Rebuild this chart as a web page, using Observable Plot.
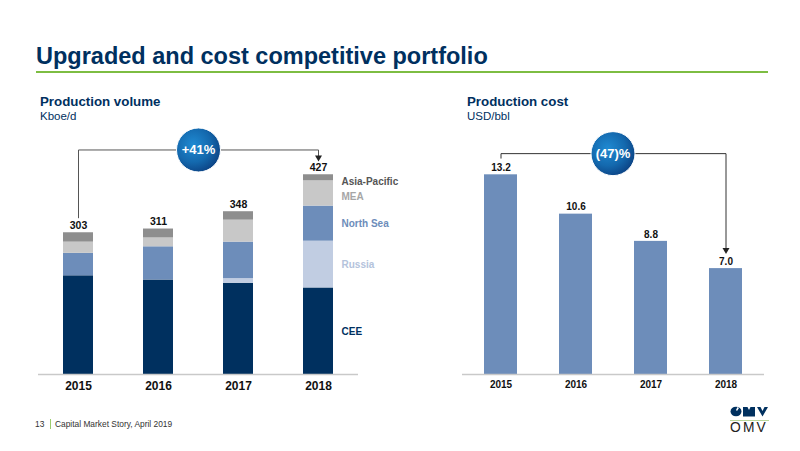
<!DOCTYPE html>
<html><head><meta charset="utf-8">
<script src="https://cdn.jsdelivr.net/npm/d3@7"></script>
<script src="https://cdn.jsdelivr.net/npm/@observablehq/plot@0.6"></script>
<style>
html,body{margin:0;padding:0;background:#fff;width:800px;height:451px;overflow:hidden;font-family:"Liberation Sans",Arial,sans-serif}
.t{position:absolute;white-space:nowrap;line-height:1}
.navy{color:#00305f}
#left,#right{position:absolute;top:120px}
#left{left:0}#right{left:400px}
</style></head><body>
<div class="t navy" style="left:36px;top:45px;font-size:23.5px;font-weight:bold">Upgraded and cost competitive portfolio</div>
<div style="position:absolute;left:36px;top:71px;width:732px;height:2px;background:#7dbd42"></div>
<div class="t navy" style="left:40px;top:95px;font-size:13.3px;font-weight:bold">Production volume</div>
<div class="t navy" style="left:40px;top:111px;font-size:11.5px">Kboe/d</div>
<div class="t navy" style="left:467px;top:95px;font-size:13.3px;font-weight:bold">Production cost</div>
<div class="t navy" style="left:467px;top:111px;font-size:11.5px">USD/bbl</div>
<div id="left"></div><div id="right"></div>
<div class="t" style="left:35px;top:420px;font-size:8.4px;color:#333">13</div>
<div style="position:absolute;left:50px;top:419px;width:1px;height:10px;background:#9ccc6e"></div>
<div class="t" style="left:55px;top:420px;font-size:8.4px;color:#333">Capital Market Story, April 2019</div>
<svg style="position:absolute;left:730px;top:406px" width="39" height="11" viewBox="0 0 39 11">
<ellipse cx="6" cy="5.500" rx="5.500" ry="4.800" fill="#00305f"/>
<path d="M7.500 1l1.500 1-2 3-1-1z" fill="#fff"/>
<path d="M13 1h4.500l1.500 3 1.500-3H25v9.500H13z" fill="#00305f"/>
<path d="M27 1h3.500l2 4 2-4H38l-5.500 9.500z" fill="#00305f"/>
</svg>
<div style="position:absolute;left:730px;top:420px;width:39px;height:1px;background:#b9d79a"></div>
<div class="t" style="left:730px;top:421px;font-size:13.8px;letter-spacing:2.2px;color:#222">OMV</div>
<script>
const years = ["2015", "2016", "2017", "2018"];
const seriesNames = ["CEE", "Russia", "North Sea", "MEA", "Asia-Pacific"];
const seriesColors = ["#00305f", "#c1cde2", "#6d8dba", "#c8c8c8", "#8e8e8e"];
const labelColors = ["#00305f", "#b4c3dc", "#6d8dba", "#a6a6a6", "#555555"];
const labelLevels = [92, 235, 322, 380, 412];
const cee = [211, 202, 195, 185];
const russia = [0, 0, 10, 100];
const northSea = [48, 71, 78, 75];
const mea = [24, 19, 47, 54];
const asiaPacific = [20, 19, 18, 13];
const totals = [303, 311, 348, 427];
const cost = [13.2, 10.6, 8.8, 7.0];
const volumeChange = "+41%";
const costChange = "(47)%";
const volumeBracket = [["2015", 335], ["2015", 480], ["2018", 480], ["2018", 466]];
const costBracket = [["2015", 14.3], ["2015", 14.6], ["2018", 14.6], ["2018", 8.3]];

const stacked = [cee, russia, northSea, mea, asiaPacific].flatMap((vals, s) =>
  vals.map((v, i) => ({year: years[i], series: seriesNames[s], value: v})));
const font = "Liberation Sans, Arial, sans-serif";

const gradient = () => {
  const defs = d3.create("svg:defs");
  const g = defs.append("radialGradient").attr("id", "bubble")
    .attr("cx", "0.38").attr("cy", "0.38").attr("r", "0.72");
  g.append("stop").attr("offset", "0%").attr("stop-color", "#1f8ad2");
  g.append("stop").attr("offset", "55%").attr("stop-color", "#1469ae");
  g.append("stop").attr("offset", "100%").attr("stop-color", "#0a3b7c");
  return defs.node();
};

const bubble = (year, y, dx, label) => [
  Plot.dot([[year, y]], {x: d => d[0], y: d => d[1], dx, r: 22, fill: "url(#bubble)", stroke: "#ffffff", strokeWidth: 1}),
  Plot.text([label], {x: () => year, y: () => y, dx, fill: "#fff", fontWeight: "bold", fontSize: 13, fontFamily: font})
];
const arrowHead = (point, color) => Plot.dot([point], {x: d => d[0], y: d => d[1], symbol: "triangle", rotate: 180, r: 2.6, fill: color, dy: 1});

document.getElementById("left").append(Plot.plot({
  width: 400, height: 280, marginLeft: 38, marginRight: 42, marginTop: 0, marginBottom: 26,
  style: {fontFamily: font, background: "transparent", color: "#111"},
  x: {type: "band", domain: years, paddingInner: 0.63, paddingOuter: 0.315, axis: null},
  y: {domain: [0, 543], axis: null},
  color: {type: "ordinal", domain: seriesNames, range: seriesColors},
  marks: [
    gradient,
    Plot.barY(stacked, {x: "year", y: "value", fill: "series", z: "series"}),
    Plot.ruleY([0], {stroke: "#c9c9c9", strokeWidth: 1.5}),
    Plot.axisX({tickSize: 0, tickPadding: 7, label: null, fontSize: 12, fontWeight: "bold", fontFamily: font}),
    Plot.text(totals, {x: (d, i) => years[i], y: d => d, dy: -7, fontSize: 10.5, fontWeight: "bold", fill: "#111"}),
    Plot.text(seriesNames, {x: () => "2018", y: (d, i) => labelLevels[i], dx: 23, textAnchor: "start", fontSize: 10, fontWeight: "bold", fill: (d, i) => labelColors[i]}),
    Plot.line(volumeBracket, {x: d => d[0], y: d => d[1], stroke: "#555", strokeWidth: 1}),
    arrowHead(volumeBracket[3], "#222"),
    ...bubble("2016", 480, 40, volumeChange)
  ]
}));

document.getElementById("right").append(Plot.plot({
  width: 400, height: 280, marginLeft: 62, marginRight: 36, marginTop: 0, marginBottom: 26,
  style: {fontFamily: font, background: "transparent", color: "#111"},
  x: {type: "band", domain: years, paddingInner: 0.554, paddingOuter: 0.277, axis: null},
  y: {domain: [0, 16.79], axis: null},
  marks: [
    Plot.barY(cost, {x: (d, i) => years[i], y: d => d, fill: "#6d8dba"}),
    Plot.ruleY([0], {stroke: "#c9c9c9", strokeWidth: 1.5}),
    Plot.axisX({tickSize: 0, tickPadding: 6, label: null, fontSize: 10, fontWeight: "bold", fontFamily: font}),
    Plot.text(cost, {x: (d, i) => years[i], y: d => d, text: d => d.toFixed(1), dy: -7, fontSize: 10, fontWeight: "bold", fill: "#111"}),
    Plot.line(costBracket, {x: d => d[0], y: d => d[1], stroke: "#333", strokeWidth: 1}),
    arrowHead(costBracket[3], "#222"),
    ...bubble("2016", 14.6, 37, costChange)
  ]
}));
</script>
</body></html>
